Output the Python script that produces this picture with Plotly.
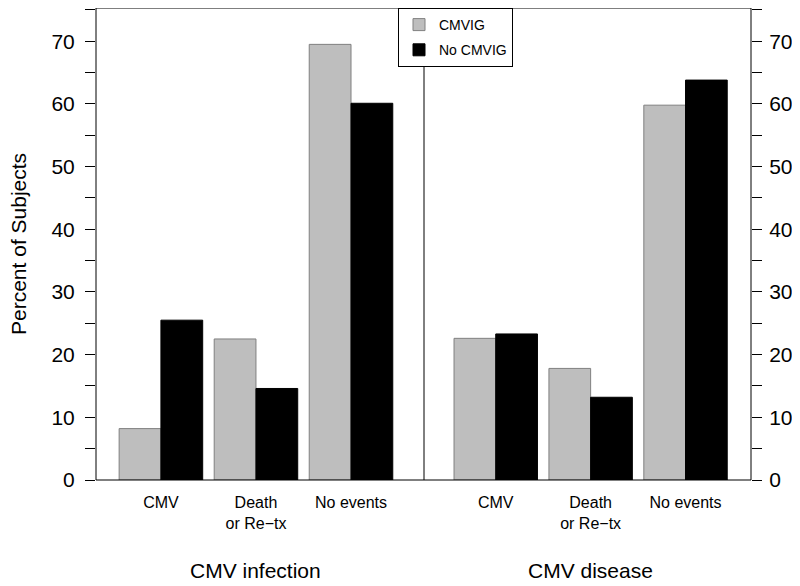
import plotly.graph_objects as go

# Data
categories = ["CMV", "Death<br>or Re\u2212tx", "No events"]
panels = ["CMV infection", "CMV disease"]
infection_cmvig = [8.2, 22.5, 69.5]
infection_no_cmvig = [25.5, 14.6, 60.1]
disease_cmvig = [22.6, 17.8, 59.8]
disease_no_cmvig = [23.3, 13.2, 63.8]
y_ticks = [0, 10, 20, 30, 40, 50, 60, 70]

GRAY = "#bebebe"
FONT = "Liberation Sans, Arial, sans-serif"

pos = list(range(len(categories)))

fig = go.Figure()
fig.add_trace(go.Bar(x=pos, y=infection_cmvig, name="CMVIG", marker=dict(color=GRAY, line=dict(color="#808080", width=1)),
                     xaxis="x", yaxis="y", legendgroup="a"))
fig.add_trace(go.Bar(x=pos, y=infection_no_cmvig, name="No CMVIG", marker=dict(color="black", line=dict(color="black", width=1)),
                     xaxis="x", yaxis="y", legendgroup="b"))
fig.add_trace(go.Bar(x=pos, y=disease_cmvig, name="CMVIG", marker=dict(color=GRAY, line=dict(color="#808080", width=1)),
                     xaxis="x2", yaxis="y2", legendgroup="a", showlegend=False))
fig.add_trace(go.Bar(x=pos, y=disease_no_cmvig, name="No CMVIG", marker=dict(color="black", line=dict(color="black", width=1)),
                     xaxis="x2", yaxis="y2", legendgroup="b", showlegend=False))

# page body adds an 8px offset; compensate in figure size/margins
L, R, T, B = 88, 49, 0, 106
W, H = 792, 578
pw = W - L - R
split = (424 - 8 - L) / pw

xcommon = dict(tickvals=pos, ticktext=categories, ticks="", showline=False, showgrid=False, zeroline=False,
               tickfont=dict(size=16, color="black", family=FONT), fixedrange=True, automargin=False,
               ticklabelstandoff=11)
ycommon = dict(range=[0, 75.3], tickvals=y_ticks, ticks="outside", ticklen=10, tickwidth=1, tickcolor="black",
               showline=False, showgrid=False, zeroline=False, automargin=False,
               minor=dict(dtick=5, tick0=0, ticks="outside", ticklen=10, tickwidth=1, tickcolor="black", showgrid=False),
               tickfont=dict(size=21, color="black", family=FONT))

fig.update_layout(
    width=W, height=H,
    margin=dict(l=L, r=R, t=T, b=B, autoexpand=False),
    paper_bgcolor="white", plot_bgcolor="white",
    font=dict(family=FONT, color="black"),
    barmode="group", bargap=0.121, bargroupgap=0,
    xaxis=dict(domain=[0, split], range=[-0.683, 2.768], anchor="y", **xcommon),
    xaxis2=dict(domain=[split, 1], range=[-0.756, 2.69], anchor="y2", **xcommon),
    yaxis=dict(domain=[0, 1], anchor="x", side="left", ticklabelstandoff=6, **ycommon),
    yaxis2=dict(domain=[0, 1], anchor="x2", side="right", ticklabelstandoff=3, **ycommon),
    legend=dict(x=(398 - 8 - L) / pw, y=1, xanchor="left", yanchor="top", bgcolor="white",
                bordercolor="black", borderwidth=1, font=dict(size=14, color="black", family=FONT),
                itemwidth=30, tracegroupgap=4),
    showlegend=True,
)

# frame and divider
fig.add_shape(type="rect", xref="paper", yref="paper", x0=0, x1=1, y0=0, y1=1, line=dict(color="black", width=1))
fig.add_shape(type="line", xref="paper", yref="paper", x0=split, x1=split, y0=0, y1=1, line=dict(color="black", width=1))

# y axis title
fig.add_annotation(x=0, xref="paper", y=0.5, yref="paper", xanchor="center", yanchor="middle", xshift=-78,
                   text="Percent of Subjects", textangle=-90, showarrow=False,
                   font=dict(size=21, color="black", family=FONT))

# panel titles under middle group
for ax, title in zip(["x", "x2"], panels):
    fig.add_annotation(x=1, xref=ax, y=0, yref="paper", yanchor="middle", yshift=-90, text=title,
                       showarrow=False, font=dict(size=21, color="black", family=FONT))

fig.write_html("out.html")
